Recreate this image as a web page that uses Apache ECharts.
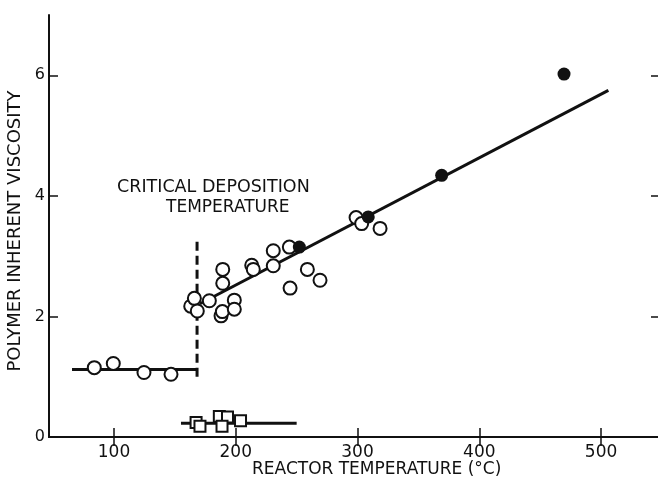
<!DOCTYPE html>
<html>
<head>
<meta charset="utf-8">
<script src="https://cdn.jsdelivr.net/npm/echarts@6/dist/echarts.min.js"></script>
<style>
  html, body { margin: 0; padding: 0; background: #fff; }
  #chart { width: 658px; height: 478px; }
</style>
</head>
<body>
<div id="chart"></div>
<script>
// values
const xTicks = [100, 200, 300, 400, 500];
const yTicks = [0, 2, 4, 6];

// open circles (above and below the critical temperature)
const openCircles = [
  [83.8, 1.15], [99.4, 1.22], [124.6, 1.07], [146.8, 1.04],
  [163, 2.17], [166, 2.30], [168.4, 2.09], [178.3, 2.26],
  [187.9, 2.01], [189, 2.08], [189.3, 2.55], [189.3, 2.78],
  [198.8, 2.27], [198.8, 2.12], [213.1, 2.85], [214.4, 2.78],
  [230.8, 3.09], [230.8, 2.84], [244, 3.15], [244.6, 2.47],
  [258.8, 2.78], [269.2, 2.60], [298.8, 3.64], [303.4, 3.54],
  [318.5, 3.46]
];
const filledCircles = [[252.2, 3.15], [308.8, 3.65], [369.1, 4.34], [469.6, 6.02]];
const squares = [
  [167.4, 0.24], [170.6, 0.18], [186.5, 0.34],
  [193.2, 0.33], [188.7, 0.18], [203.9, 0.27]
];

// drawn lines
const fitLine = [[170.6, 2.21], [506, 5.75]];
const lowLine = [[65.5, 1.12], [168.2, 1.12]];
const squareLine = [[155, 0.23], [250, 0.23]];
const criticalLine = [[168.2, 1.0], [168.2, 3.32]];

const ink = '#111';
const font = 'DejaVu Sans';

const chart = echarts.init(document.getElementById('chart'));

function lineSeries(data, dashed) {
  return {
    type: 'line',
    data: data,
    symbol: 'none',
    silent: true,
    z: 1,
    lineStyle: { color: ink, width: 3, type: dashed ? [9, 5] : 'solid' }
  };
}

const option = {
  backgroundColor: '#fff',
  animation: false,
  grid: { left: 49, top: 15, right: -1, bottom: 41, outerBoundsMode: 'none', containLabel: false },
  xAxis: [{
    type: 'value',
    min: 46.6,
    max: 547.6,
    splitLine: { show: false },
    axisLine: { lineStyle: { color: ink, width: 2 } },
    axisTick: { inside: true, length: 9, customValues: xTicks, lineStyle: { color: ink, width: 1.5 } },
    axisLabel: { customValues: xTicks, margin: 7, color: ink, fontFamily: font, fontSize: 17 }
  }, {
    type: 'value',
    position: 'top',
    min: 46.6,
    max: 547.6,
    splitLine: { show: false },
    axisLine: { lineStyle: { color: ink, width: 2 } },
    axisTick: { inside: true, length: 9, customValues: xTicks, lineStyle: { color: ink, width: 1.5 } },
    axisLabel: { show: false }
  }],
  yAxis: [{
    type: 'value',
    min: 0,
    max: 7,
    splitLine: { show: false },
    axisLine: { lineStyle: { color: ink, width: 2 } },
    axisTick: { inside: true, length: 9, customValues: yTicks, lineStyle: { color: ink, width: 1.5 } },
    axisLabel: { customValues: yTicks, margin: 4, color: ink, fontFamily: font, fontSize: 16 },
    name: 'POLYMER INHERENT VISCOSITY',
    nameLocation: 'middle',
    nameGap: 23,
    nameTextStyle: { color: ink, fontFamily: font, fontSize: 18, padding: [0, 0, 0, -10] }
  }, {
    type: 'value',
    position: 'right',
    min: 0,
    max: 7,
    splitLine: { show: false },
    axisLine: { lineStyle: { color: ink, width: 2 } },
    axisTick: { inside: true, length: 8, customValues: yTicks, lineStyle: { color: ink, width: 1.5 } },
    axisLabel: { show: false }
  }],
  graphic: [{
    type: 'text',
    left: 117,
    top: 178,
    style: { text: 'CRITICAL DEPOSITION', fill: ink, font: '17.5px "DejaVu Sans"' }
  }, {
    type: 'text',
    left: 166,
    top: 199,
    style: { text: 'TEMPERATURE', fill: ink, font: '17px "DejaVu Sans"' }
  }, {
    // x-axis title, sits right of the plot centre in the original
    type: 'text',
    left: 252,
    top: 461,
    style: { text: 'REACTOR TEMPERATURE (°C)', fill: ink, font: '17px "DejaVu Sans"' }
  }],
  series: [
    lineSeries(fitLine),
    lineSeries(lowLine),
    lineSeries(squareLine),
    lineSeries(criticalLine, true),
    {
      type: 'scatter',
      data: openCircles,
      symbol: 'circle',
      symbolSize: 13,
      z: 3,
      itemStyle: { color: '#fff', borderColor: ink, borderWidth: 2, opacity: 1 }
    },
    {
      type: 'scatter',
      data: filledCircles,
      symbol: 'circle',
      symbolSize: 13,
      z: 4,
      itemStyle: { color: ink, opacity: 1 }
    },
    {
      type: 'scatter',
      data: squares,
      symbol: 'rect',
      symbolSize: 11,
      z: 3,
      itemStyle: { color: '#fff', borderColor: ink, borderWidth: 2, opacity: 1 }
    }
  ]
};

chart.setOption(option);
</script>
</body>
</html>
